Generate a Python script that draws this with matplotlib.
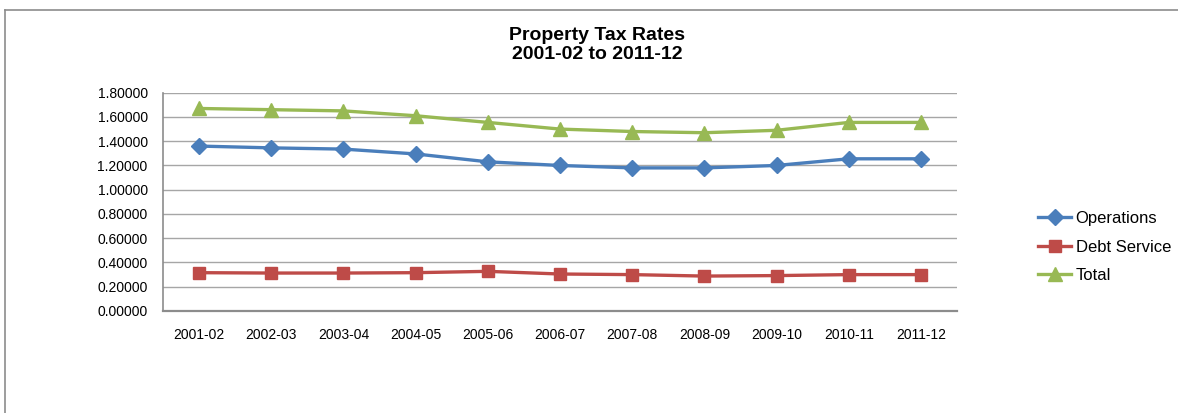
import matplotlib
matplotlib.use("Agg")
import matplotlib.pyplot as plt
from matplotlib.lines import Line2D

plt.rcParams['font.family'] = ['Liberation Sans', 'DejaVu Sans']

years = ["2001-02", "2002-03", "2003-04", "2004-05", "2005-06", "2006-07",
         "2007-08", "2008-09", "2009-10", "2010-11", "2011-12"]
operations = [1.360, 1.345, 1.335, 1.295, 1.230, 1.200, 1.180, 1.180, 1.200, 1.255, 1.255]
debt_service = [0.316, 0.313, 0.313, 0.316, 0.327, 0.305, 0.300, 0.288, 0.292, 0.300, 0.300]
total = [1.670, 1.660, 1.650, 1.610, 1.555, 1.500, 1.480, 1.470, 1.490, 1.555, 1.555]
y_ticks = [0.0, 0.2, 0.4, 0.6, 0.8, 1.0, 1.2, 1.4, 1.6, 1.8]

W, H = 1178, 413
fig = plt.figure(figsize=(W / 100, H / 100), dpi=100)
fig.patch.set_facecolor("white")

# chart frame: top and left edges only
fig.add_artist(Line2D([5 / W, 5 / W], [0, 1 - 10 / H], color="#8c8c8c", lw=1.2))
fig.add_artist(Line2D([5 / W, 1], [1 - 10 / H, 1 - 10 / H], color="#8c8c8c", lw=1.2))

left, right, top, bottom = 163, 957, 92.7, 311
ax = fig.add_axes([left / W, 1 - bottom / H, (right - left) / W, (bottom - top) / H])

x = list(range(len(years)))
series = [
    (operations, "Operations", "#4A7EBB", "D", 8.5),
    (debt_service, "Debt Service", "#BE4B48", "s", 8.5),
    (total, "Total", "#98B954", "^", 9.5),
]
for vals, name, color, mk, ms in series:
    ax.plot(x, vals, color=color, lw=2.4, marker=mk, markersize=ms,
            markeredgecolor=color, label=name, zorder=3)

ax.set_xlim(-0.5, len(years) - 0.5)
ax.set_ylim(0, 1.8)
ax.set_yticks(y_ticks)
ax.set_yticklabels([f"{v:.5f}" for v in y_ticks], fontsize=10)
ax.set_xticks(x)
ax.set_xticklabels(years, fontsize=10)
ax.tick_params(axis="both", length=0, colors="black")
ax.tick_params(axis="y", pad=11)
ax.tick_params(axis="x", pad=12)
ax.yaxis.grid(True, color="#a6a6a6", lw=1.0)
ax.set_axisbelow(True)
for s in ["top", "right"]:
    ax.spines[s].set_visible(False)
ax.spines["left"].set_color("#8c8c8c")
ax.spines["left"].set_linewidth(1.2)
ax.spines["bottom"].set_color("#8c8c8c")
ax.spines["bottom"].set_linewidth(1.6)

fig.text(597 / W, 1 - 45 / H, "Property Tax Rates\n2001-02 to 2011-12",
         ha="center", va="center", fontsize=14, fontweight="bold", linespacing=1.12)

leg = fig.legend(loc="center left", bbox_to_anchor=(1038 / W, 1 - 247 / H),
                 frameon=False, fontsize=12, handlelength=2.0, handletextpad=0.25,
                 labelspacing=0.8, borderaxespad=0, borderpad=0)

fig.savefig("out.png", dpi=100)
